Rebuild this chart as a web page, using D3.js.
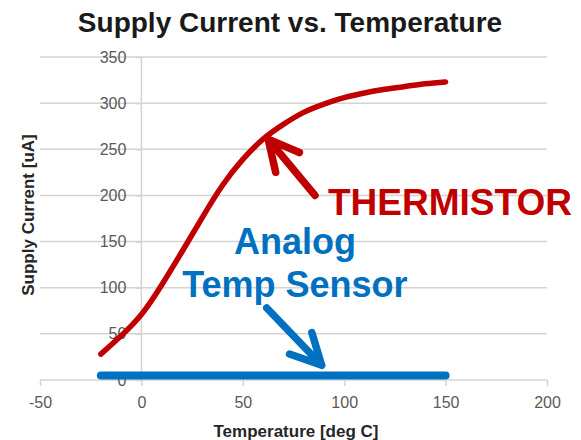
<!DOCTYPE html>
<html>
	<head>
		<meta charset="utf-8">
		<title>Supply Current vs. Temperature</title>
		<style>
			body { margin: 0; background: #fff; }
			svg { display: block; font-family: "Liberation Sans", Arial, sans-serif; }
			.tick text { fill: #595959; font-size: 16px; }
		</style>
		<script src="https://d3js.org/d3.v7.min.js"></script>
	</head>
	<body>
		<div id="chart"></div>
		<script>
			// data
			var temps = [-20, -10, 0, 10, 20, 30, 40, 50, 60, 70, 80, 90, 100, 110, 120, 130, 140, 150];
			var thermistor = [28, 48, 71, 103, 139, 176, 211, 239, 261, 277, 290, 299, 306, 311, 315, 318, 321, 323];
			var sensor = [5, 5, 5, 5, 5, 5, 5, 5, 5, 5, 5, 5, 5, 5, 5, 5, 5, 5];
			var xTicks = [-50, 0, 50, 100, 150, 200];
			var yTicks = [0, 50, 100, 150, 200, 250, 300, 350];

			// set the dimensions
			var margin = {top: 57, right: 34, bottom: 60, left: 40},
			width = 581 - margin.left - margin.right,
			height = 440 - margin.top - margin.bottom;

			var x = d3.scaleLinear().domain([-50, 200]).range([0, width]);
			var y = d3.scaleLinear().domain([0, 350]).range([height, 0]);

			var svg = d3.select("#chart").append("svg")
			.attr("width", 581)
			.attr("height", 440);

			var g = svg.append("g")
			.attr("transform", "translate(" + margin.left + "," + margin.top + ")");

			// title
			svg.append("text")
			.attr("x", 290)
			.attr("y", 32)
			.attr("text-anchor", "middle")
			.style("font-size", "28px")
			.style("font-weight", "bold")
			.style("fill", "#1a1a1a")
			.text("Supply Current vs. Temperature");

			// horizontal grid
			g.selectAll(".grid")
			.data(yTicks.filter(function(d) { return d > 0; }))
			.enter().append("line")
			.attr("class", "grid")
			.attr("x1", 0)
			.attr("x2", width)
			.attr("y1", function(d) { return y(d); })
			.attr("y2", function(d) { return y(d); })
			.attr("stroke", "#d4d4d4")
			.attr("stroke-width", 1.5);

			// x axis
			var xAxis = g.append("g")
			.attr("transform", "translate(0," + height + ")")
			.call(d3.axisBottom(x).tickValues(xTicks).tickSize(6).tickPadding(11)
				.tickFormat(function(d) { return String(d); }));
			xAxis.selectAll("line, path").attr("stroke", "#d4d4d4").attr("stroke-width", 1.5);
			xAxis.select(".domain").attr("d", "M0,0H" + width);

			// y axis crossing at x = 0
			var yAxis = g.append("g")
			.attr("transform", "translate(" + x(0) + ",0)")
			.call(d3.axisLeft(y).tickValues(yTicks).tickSize(6).tickPadding(9)
				.tickFormat(function(d) { return String(d); }));
			yAxis.selectAll("line, path").attr("stroke", "#d4d4d4").attr("stroke-width", 1.5);
			yAxis.select(".domain").attr("d", "M0,0V" + height);

			// axis titles
			svg.append("text")
			.attr("x", 296)
			.attr("y", 437)
			.attr("text-anchor", "middle")
			.style("font-size", "17px")
			.style("font-weight", "bold")
			.style("fill", "#262626")
			.text("Temperature [deg C]");

			svg.append("text")
			.attr("transform", "translate(34,215) rotate(-90)")
			.attr("text-anchor", "middle")
			.style("font-size", "17px")
			.style("font-weight", "bold")
			.style("fill", "#262626")
			.text("Supply Current [uA]");

			// series
			var line = d3.line()
			.x(function(d, i) { return x(temps[i]); })
			.y(function(d) { return y(d); })
			.curve(d3.curveNatural);

			g.append("path")
			.datum(thermistor)
			.attr("d", line)
			.attr("fill", "none")
			.attr("stroke", "#c00000")
			.attr("stroke-width", 5.5)
			.attr("stroke-linecap", "round");

			g.append("path")
			.datum(sensor)
			.attr("d", line)
			.attr("fill", "none")
			.attr("stroke", "#0070c0")
			.attr("stroke-width", 8)
			.attr("stroke-linecap", "round");

			// annotations
			function arrow(tip, tail, color) {
				var tx = x(tip[0]), ty = y(tip[1]);
				var sx = x(tail[0]), sy = y(tail[1]);
				var a = Math.atan2(sy - ty, sx - tx);
				var len = 34, spread = 27 * Math.PI / 180;
				var p = "M" + sx + "," + sy + "L" + tx + "," + ty +
					"M" + (tx + len * Math.cos(a - spread)) + "," + (ty + len * Math.sin(a - spread)) +
					"L" + tx + "," + ty +
					"L" + (tx + len * Math.cos(a + spread)) + "," + (ty + len * Math.sin(a + spread));
				g.append("path")
				.attr("d", p)
				.attr("fill", "none")
				.attr("stroke", color)
				.attr("stroke-width", 7.5)
				.attr("stroke-linecap", "round")
				.attr("stroke-linejoin", "round");
			}

			arrow([62.5, 261], [85.6, 200], "#c00000");
			arrow([88.9, 16], [61.8, 78], "#0070c0");

			g.append("text")
			.attr("x", x(92))
			.attr("y", y(179))
			.style("font-size", "37px")
			.style("font-weight", "bold")
			.style("fill", "#c00000")
			.text("THERMISTOR");

			var blueText = g.append("text")
			.attr("text-anchor", "middle")
			.style("font-size", "36px")
			.style("font-weight", "bold")
			.style("fill", "#0070c0");
			blueText.append("tspan").attr("x", x(75.7)).attr("y", y(136)).text("Analog");
			blueText.append("tspan").attr("x", x(75.7)).attr("y", y(90)).text("Temp Sensor");
		</script>
	</body>
</html>
